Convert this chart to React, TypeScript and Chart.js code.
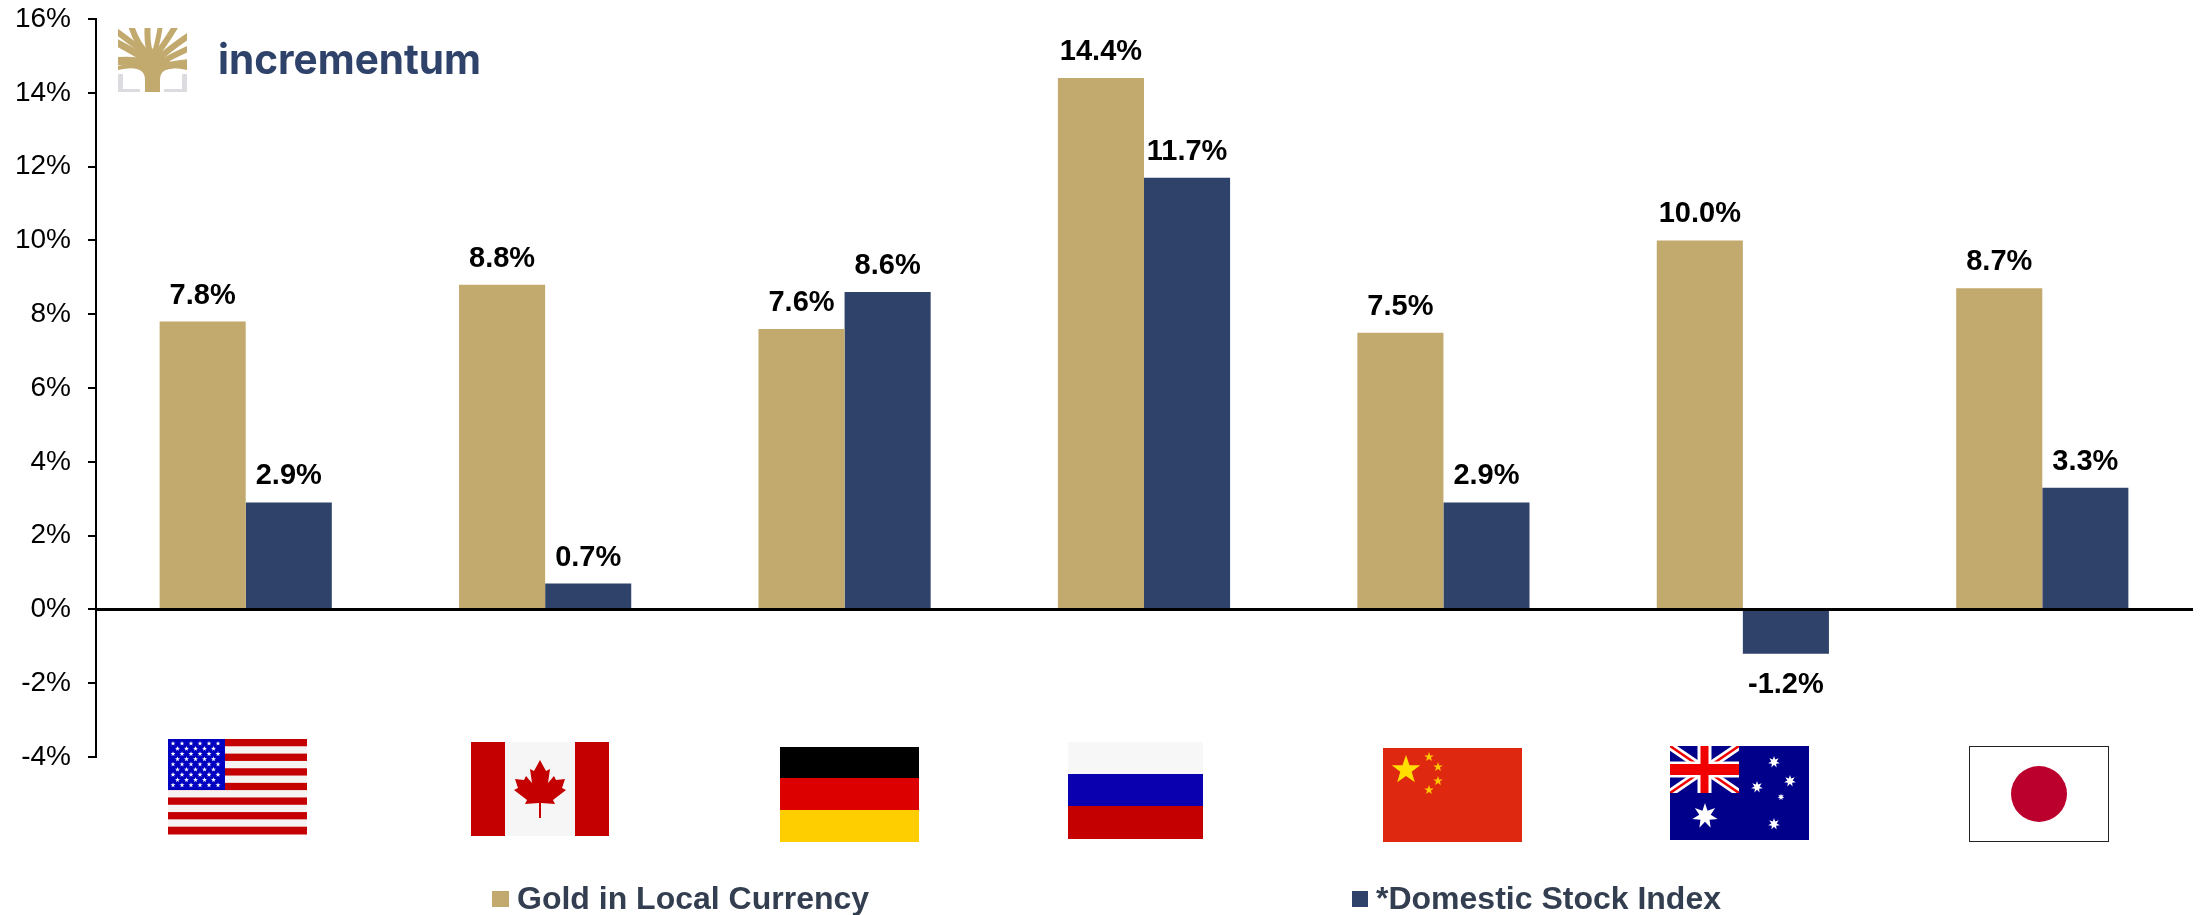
import React, { useEffect, useRef } from "react";
import { Chart, registerables } from "chart.js";

Chart.register(...registerables);

const countries = ["United States", "Canada", "Germany", "Russia", "China", "Australia", "Japan"];
const goldValues = [7.8, 8.8, 7.6, 14.4, 7.5, 10.0, 8.7];
const stockValues = [2.9, 0.7, 8.6, 11.7, 2.9, -1.2, 3.3];
const seriesNames = ["Gold in Local Currency", "*Domestic Stock Index"];
const brandName = "incrementum";

const GOLD = "#C2A96D";
const NAVY = "#2F4269";
const FONT = '"Liberation Sans", Arial, sans-serif';

type Ctx = CanvasRenderingContext2D;

function star(ctx: Ctx, cx: number, cy: number, r: number, color: string, points = 5, inner = 0.4) {
  ctx.fillStyle = color;
  ctx.beginPath();
  for (let i = 0; i < points * 2; i++) {
    const rad = i % 2 === 0 ? r : r * inner;
    const a = -Math.PI / 2 + (i * Math.PI) / points;
    const x = cx + rad * Math.cos(a);
    const y = cy + rad * Math.sin(a);
    if (i === 0) ctx.moveTo(x, y);
    else ctx.lineTo(x, y);
  }
  ctx.closePath();
  ctx.fill();
}

function bands(ctx: Ctx, x: number, w: number, ys: number[], colors: string[]) {
  colors.forEach((c, i) => {
    ctx.fillStyle = c;
    ctx.fillRect(x, ys[i], w, ys[i + 1] - ys[i]);
  });
}

function drawUS(ctx: Ctx) {
  const x = 168, y = 739, w = 139, h = 95;
  const sh = h / 13;
  for (let i = 0; i < 13; i++) {
    ctx.fillStyle = i % 2 === 0 ? "#C40000" : "#F6F3F3";
    ctx.fillRect(x, y + i * sh, w, sh + 0.5);
  }
  ctx.fillStyle = "#0000C0";
  ctx.fillRect(x, y, 57, 51);
  for (let r = 0; r < 9; r++) {
    const n = r % 2 === 0 ? 6 : 5;
    for (let c = 0; c < n; c++) {
      const sx = x + (r % 2 === 0 ? 5 : 9.5) + c * 9;
      star(ctx, sx, y + 4.5 + r * 5.2, 2.6, "#FFFFFF");
    }
  }
}

function drawCanada(ctx: Ctx) {
  const x = 471, y = 742, w = 138, h = 94;
  ctx.fillStyle = "#F6F6F6";
  ctx.fillRect(x, y, w, h);
  ctx.fillStyle = "#C40000";
  ctx.fillRect(x, y, 34, h);
  ctx.fillRect(x + w - 34, y, 34, h);
  const cx = 540, top = 760;
  const pts = [
    [0, 0], [6, 11], [10, 9], [8, 23], [14, 16], [16, 20], [25, 19], [22, 28], [26, 30],
    [13, 40], [15, 44], [1, 43], [1, 58], [-1, 58], [-1, 43], [-15, 44], [-13, 40],
    [-26, 30], [-22, 28], [-25, 19], [-16, 20], [-14, 16], [-8, 23], [-10, 9], [-6, 11],
  ];
  ctx.beginPath();
  pts.forEach(([dx, dy], i) => {
    if (i === 0) ctx.moveTo(cx + dx, top + dy);
    else ctx.lineTo(cx + dx, top + dy);
  });
  ctx.closePath();
  ctx.fill();
}

function drawChina(ctx: Ctx) {
  ctx.fillStyle = "#DE2910";
  ctx.fillRect(1383, 748, 139, 94);
  star(ctx, 1406, 770, 15, "#FFDE00");
  [[1429, 757], [1438, 767], [1438, 781], [1429, 790]].forEach(([sx, sy]) => star(ctx, sx, sy, 5, "#FFC800"));
}

function drawAustralia(ctx: Ctx) {
  const x = 1670, y = 746, w = 139, h = 94, cw = 69, ch = 47;
  ctx.fillStyle = "#00008B";
  ctx.fillRect(x, y, w, h);
  ctx.save();
  ctx.beginPath();
  ctx.rect(x, y, cw, ch);
  ctx.clip();
  const diag = (color: string, lw: number) => {
    ctx.strokeStyle = color;
    ctx.lineWidth = lw;
    ctx.beginPath();
    ctx.moveTo(x, y);
    ctx.lineTo(x + cw, y + ch);
    ctx.moveTo(x + cw, y);
    ctx.lineTo(x, y + ch);
    ctx.stroke();
  };
  diag("#FFFFFF", 8);
  diag("#F00000", 2.5);
  ctx.fillStyle = "#FFFFFF";
  ctx.fillRect(x + cw / 2 - 7, y, 14, ch);
  ctx.fillRect(x, y + ch / 2 - 8, cw, 16);
  ctx.fillStyle = "#F00000";
  ctx.fillRect(x + cw / 2 - 4, y, 8, ch);
  ctx.fillRect(x, y + ch / 2 - 5.5, cw, 11);
  ctx.restore();
  star(ctx, 1705, 816, 13, "#FFFFFF", 7, 0.45);
  [[1774, 762, 6], [1757, 787, 6], [1790, 781, 6], [1781, 797, 3.5], [1774, 824, 6]].forEach(([sx, sy, r]) =>
    star(ctx, sx, sy, r, "#FFFFFF", 7, 0.45)
  );
}

function drawJapan(ctx: Ctx) {
  ctx.fillStyle = "#FFFFFF";
  ctx.fillRect(1969, 746, 139, 95);
  ctx.strokeStyle = "#222222";
  ctx.lineWidth = 1;
  ctx.strokeRect(1969.5, 746.5, 139, 95);
  ctx.fillStyle = "#BC002D";
  ctx.beginPath();
  ctx.arc(2039, 794, 28, 0, Math.PI * 2);
  ctx.fill();
}

function drawLogo(ctx: Ctx) {
  ctx.save();
  ctx.beginPath();
  ctx.rect(118, 28, 69, 44);
  ctx.clip();
  ctx.strokeStyle = GOLD;
  ctx.lineCap = "butt";
  const branches: number[][] = [
    [150, 66, 135, 58, 112, 62, 8],
    [150, 62, 135, 52, 112, 40, 7],
    [149, 56, 135, 45, 112, 28, 6],
    [148, 54, 136, 44, 130, 22, 6],
    [151, 56, 146, 42, 148, 22, 6],
    [154, 54, 158, 42, 161, 22, 5],
    [155, 56, 165, 44, 178, 22, 6],
    [157, 60, 170, 48, 194, 32, 6],
    [158, 64, 172, 56, 194, 46, 6],
    [160, 68, 172, 64, 194, 62, 7],
  ];
  branches.forEach(([x0, y0, cx, cy, x1, y1, lw]) => {
    ctx.lineWidth = lw;
    ctx.beginPath();
    ctx.moveTo(x0, y0);
    ctx.quadraticCurveTo(cx, cy, x1, y1);
    ctx.stroke();
  });
  ctx.restore();
  ctx.fillStyle = GOLD;
  ctx.beginPath();
  ctx.moveTo(118, 70);
  ctx.quadraticCurveTo(145, 64, 145, 80);
  ctx.lineTo(145, 92);
  ctx.lineTo(160, 92);
  ctx.lineTo(160, 80);
  ctx.quadraticCurveTo(160, 64, 187, 70);
  ctx.lineTo(187, 66);
  ctx.quadraticCurveTo(162, 62, 152, 48);
  ctx.quadraticCurveTo(142, 62, 118, 66);
  ctx.closePath();
  ctx.fill();
  ctx.fillStyle = "#DCDBDF";
  ctx.fillRect(118, 74, 5, 18);
  ctx.fillRect(118, 89, 22, 3);
  ctx.fillRect(182, 74, 5, 18);
  ctx.fillRect(164, 89, 23, 3);
  ctx.fillStyle = NAVY;
  ctx.font = '700 41px Inter, "Open Sans", sans-serif';
  ctx.textAlign = "left";
  ctx.textBaseline = "alphabetic";
  ctx.fillText(brandName, 218, 74, 263);
}

const decorations = {
  id: "decorations",
  afterDraw(chart: Chart) {
    const ctx = chart.ctx as Ctx;
    ctx.save();
    drawLogo(ctx);
    drawUS(ctx);
    drawCanada(ctx);
    bands(ctx, 780, 139, [747, 778, 810, 842], ["#000000", "#DD0000", "#FFCE00"]);
    bands(ctx, 1068, 135, [742, 774, 806, 839], ["#F7F7F7", "#0A00B0", "#C40000"]);
    drawChina(ctx);
    drawAustralia(ctx);
    drawJapan(ctx);

    // legend
    const legendBoxes = [
      { x: 492, w: 17, tx: 517 },
      { x: 1352, w: 16, tx: 1376 },
    ];
    ctx.font = `bold 32px ${FONT}`;
    ctx.textBaseline = "middle";
    ctx.textAlign = "left";
    chart.data.datasets.forEach((ds, i) => {
      const b = legendBoxes[i];
      ctx.fillStyle = ds.backgroundColor as string;
      ctx.fillRect(b.x, 891, b.w, 16);
      ctx.fillStyle = "#333F50";
      ctx.fillText(ds.label as string, b.tx, 900);
    });
    ctx.restore();
  },
};

const valueLabels = {
  id: "valueLabels",
  afterDatasetsDraw(chart: Chart) {
    const ctx = chart.ctx as Ctx;
    ctx.save();
    ctx.font = `bold 29px ${FONT}`;
    ctx.fillStyle = "#000000";
    ctx.textAlign = "center";
    ctx.textBaseline = "middle";
    chart.data.datasets.forEach((ds, d) => {
      chart.getDatasetMeta(d).data.forEach((el: any, i: number) => {
        const v = ds.data[i] as number;
        const y = v >= 0 ? el.y - 26 : el.y + 31;
        ctx.fillText(`${v.toFixed(1)}%`, el.x, y);
      });
    });
    ctx.restore();
  },
};

export default function App() {
  const ref = useRef<HTMLCanvasElement>(null);
  useEffect(() => {
    if (!ref.current) return;
    const chart = new Chart(ref.current, {
      type: "bar",
      data: {
        labels: countries,
        datasets: [
          { label: seriesNames[0], data: goldValues, backgroundColor: GOLD, barPercentage: 1, categoryPercentage: 0.575 },
          { label: seriesNames[1], data: stockValues, backgroundColor: NAVY, barPercentage: 1, categoryPercentage: 0.575 },
        ],
      },
      options: {
        responsive: false,
        animation: false,
        layout: { padding: { left: 0, top: 19, right: 9, bottom: 158 } },
        plugins: { legend: { display: false }, tooltip: { enabled: false } },
        scales: {
          x: {
            position: { y: 0 } as any,
            grid: { display: false },
            ticks: { display: false },
            border: { display: true, color: "#000000", width: 3, z: 5 },
          },
          y: {
            min: -4,
            max: 16,
            afterFit: (s: any) => {
              s.width = 96;
              s.paddingTop = 0;
              s.paddingBottom = 0;
            },
            grid: { drawOnChartArea: false, drawTicks: true, tickLength: 8, color: "#000000", lineWidth: 2 },
            border: { display: true, color: "#000000", width: 2 },
            ticks: {
              stepSize: 2,
              padding: 17,
              color: "#000000",
              font: { family: FONT, size: 28 },
              callback: (v: any) => `${v}%`,
            },
          },
        },
      },
      plugins: [valueLabels, decorations],
    });
    return () => chart.destroy();
  }, []);
  return (
    <div style={{ position: "absolute", left: 0, top: 0 }}>
      <canvas ref={ref} width={2201} height={915} style={{ display: "block" }} />
    </div>
  );
}
